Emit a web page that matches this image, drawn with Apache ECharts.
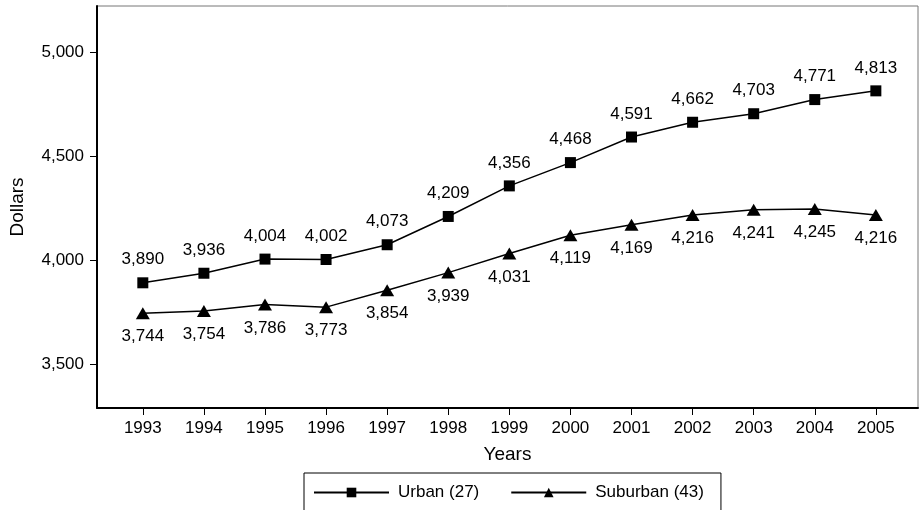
<!DOCTYPE html>
<html><head><meta charset="utf-8">
<script src="https://cdn.jsdelivr.net/npm/echarts@6/dist/echarts.min.js"></script>
<style>html,body{margin:0;padding:0;background:#fff}#c{width:923px;height:510px}</style>
</head><body><div id="c"></div>
<script>
const years = [1993,1994,1995,1996,1997,1998,1999,2000,2001,2002,2003,2004,2005];
const urban = [3890,3936,4004,4002,4073,4209,4356,4468,4591,4662,4703,4771,4813];
const suburban = [3744,3754,3786,3773,3854,3939,4031,4119,4169,4216,4241,4245,4216];
const yTicks = [3500,4000,4500,5000];
const seriesNames = ['Urban (27)','Suburban (43)'];

const font = 'Liberation Sans, Arial, sans-serif';
const chart = echarts.init(document.getElementById('c'), null, {renderer:'canvas'});
const fmt = v => v.toLocaleString('en-US');
chart.setOption({
  animation:false,
  backgroundColor:'#fff',
  grid:{left:97,right:5,top:6,bottom:102,show:true,borderColor:'#777',borderWidth:1},
  xAxis:{type:'value',min:1992.25,max:2005.69,
    name:'Years',nameLocation:'middle',nameGap:37,
    nameTextStyle:{fontFamily:font,fontSize:19,color:'#000'},
    axisLine:{show:true,lineStyle:{color:'#000',width:2}},
    axisTick:{show:true,length:7,lineStyle:{color:'#000',width:1},customValues:years},
    axisLabel:{fontFamily:font,fontSize:17,color:'#000',margin:12,customValues:years,formatter:v=>String(v)},
    splitLine:{show:false}},
  yAxis:{type:'value',min:3288,max:5221,
    name:'Dollars',nameLocation:'middle',nameGap:70,
    nameTextStyle:{fontFamily:font,fontSize:19,color:'#000'},
    axisLine:{show:true,lineStyle:{color:'#000',width:2}},
    axisTick:{show:true,length:7,lineStyle:{color:'#000',width:1},customValues:yTicks},
    axisLabel:{fontFamily:font,fontSize:17,color:'#000',margin:13,customValues:yTicks,formatter:v=>fmt(v)},
    splitLine:{show:false}},
  legend:{top:473,left:304,data:seriesNames,
    borderColor:'#000',borderWidth:1,padding:[11,17,30,9],
    itemWidth:75,itemHeight:12,itemGap:31,
    textStyle:{fontFamily:font,fontSize:17,color:'#000',padding:[0,0,0,4]}},
  series:[
    {name:seriesNames[0],type:'line',data:years.map((y,i)=>[y,urban[i]]),
     symbol:'rect',symbolSize:11,
     itemStyle:{color:'#000'},lineStyle:{color:'#000',width:1.5},
     label:{show:true,position:'top',distance:9,fontFamily:font,fontSize:17,color:'#000',formatter:p=>fmt(p.value[1])}},
    {name:seriesNames[1],type:'line',data:years.map((y,i)=>[y,suburban[i]]),
     symbol:'triangle',symbolSize:[14,12],
     itemStyle:{color:'#000'},lineStyle:{color:'#000',width:1.5},
     label:{show:true,position:'bottom',distance:9,fontFamily:font,fontSize:17,color:'#000',formatter:p=>fmt(p.value[1])}}
  ]
});
</script></body></html>
